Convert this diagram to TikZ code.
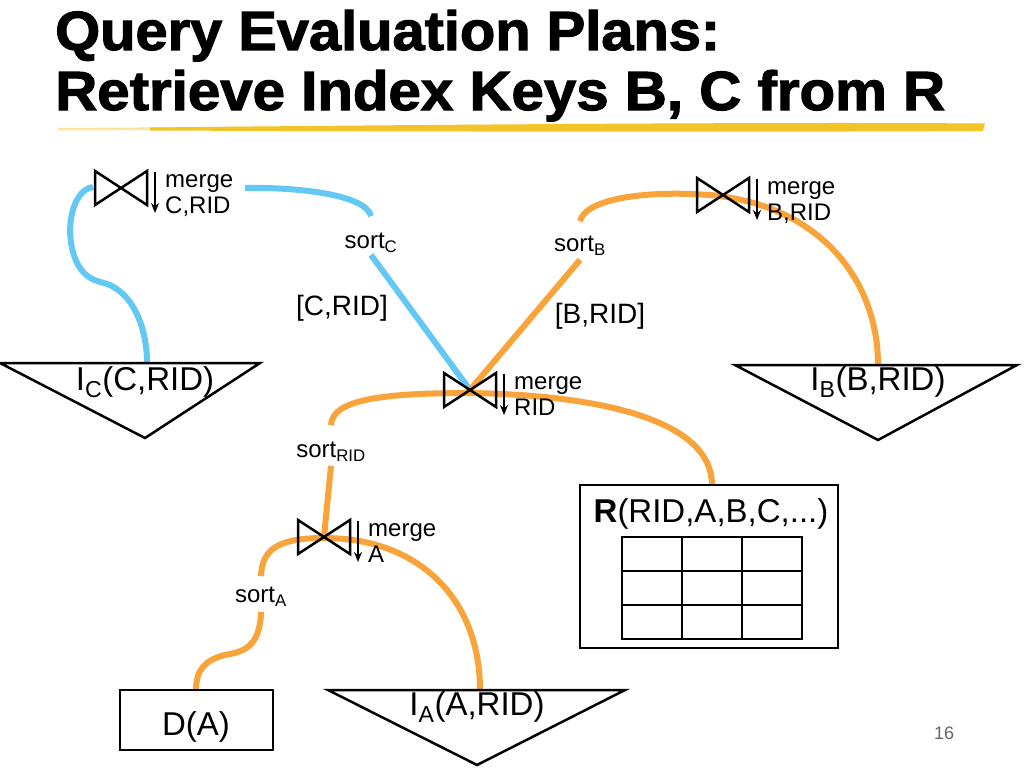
\documentclass[tikz,border=0pt]{standalone}
\usepackage{fontspec}
\setmainfont{Liberation Sans}
\newfontfamily\titlefont[FakeBold=2,FakeStretch=1.0]{Liberation Sans Bold}
\usetikzlibrary{arrows.meta}
\definecolor{cblue}{RGB}{100,200,245}
\definecolor{corange}{RGB}{248,164,58}
\definecolor{cyellow}{RGB}{242,196,38}
\begin{document}
\begin{tikzpicture}[x=1pt,y=-1pt,
  blueline/.style={line width=6pt, draw=cblue, line cap=butt},
  orangeline/.style={line width=6pt, draw=corange, line cap=butt},
  blk/.style={line width=2.5pt, line join=miter},
  small/.style={font=\fontsize{24}{26}\selectfont, inner sep=0pt},
  mid/.style={font=\fontsize{28}{32}\selectfont, inner sep=0pt},
  big/.style={font=\fontsize{33}{38}\selectfont, inner sep=0pt},
  title/.style={font=\titlefont\fontsize{57}{60}\selectfont, inner sep=0pt, anchor=base west},
  bowtie/.pic={
    \coordinate (-c) at (0,0);
    \draw[blk] (-26,-17) -- (26,17) -- (26,-17) -- (-26,17) -- cycle;
    \draw[line width=2pt, -{Stealth[length=10pt,width=8pt]}] (34,-16) -- (34,25);
    \node[small, anchor=base west] (-m) at (44,-1) {merge};
    \node[small, anchor=base west] (-k) at (44,25) {#1};
  }]
\useasboundingbox (0,0) rectangle (1024,768);
\fill[white] (0,0) rectangle (1024,768);

% title
\node[title] (t1) at (55,50) {\resizebox{665pt}{40pt}{Query Evaluation Plans:}};
\node[title] (t2) at (55,110) {\resizebox{890pt}{40pt}{Retrieve Index Keys B, C from R}};
\fill[cyellow!45] (58,128) -- (300,126.5) -- (300,129.5) -- (58,130.5) -- cycle;
\fill[cyellow] (150,127.5) .. controls (500,124) and (800,122) .. (985,123.5)
  -- (983,131) .. controls (800,132) and (500,132) .. (150,130.5) -- cycle;

% fixed points
\coordinate (ictop) at (147,363);
\coordinate (ibtop) at (878,365);
\coordinate (iatop) at (480,690);
\coordinate (datop) at (196,690);
\coordinate (rtop) at (712,485);

% labels
\node[small] (sc) at (371,243) {sort\textsubscript{C}};
\node[small] (sb) at (580,246) {sort\textsubscript{B}};
\node[small] (srid) at (331,452) {sort\textsubscript{RID}};
\node[small] (sa) at (261,597) {sort\textsubscript{A}};
\node[mid] (lc) at (342,308) {[C,RID]};
\node[mid] (lb) at (600,316) {[B,RID]};

% connectors (behind the join symbols)
\coordinate (jcl) at (93,187);
\coordinate (jcr) at (245,188);
\draw[blueline] (jcl) .. controls (70,190) and (62,240) .. (80,268)
  .. controls (92,285) and (105,280) .. (115,288)
  .. controls (135,300) and (147,330) .. (ictop);
\draw[blueline] (jcr) .. controls (300,187) and (366,195) .. ([yshift=17pt]sc.north);
\draw[blueline] ([yshift=-2pt]sc.south) -- (470,390);
\draw[orangeline] (470,390) -- ([yshift=-4pt]sb.south);
\draw[orangeline] ([yshift=15pt]sb.north) .. controls (585,200) and (640,190) .. (710,195)
  .. controls (820,205) and (878,280) .. (ibtop);
\draw[orangeline] ([yshift=17pt]srid.north) .. controls (332,400) and (380,393) .. (470,393)
  .. controls (600,395) and (712,420) .. (rtop);
\draw[orangeline] ([yshift=-4pt]srid.south) -- (324,537);
\draw[orangeline] ([yshift=11pt]sa.north) .. controls (262,548) and (280,538) .. (324,538)
  .. controls (420,538) and (480,600) .. (iatop);
\draw[orangeline] ([yshift=-5pt]sa.south) .. controls (260,650) and (240,652) .. (225,655)
  .. controls (205,660) and (196,670) .. (datop);

% joins
\pic (jc) at (121,188) {bowtie={C,RID}};
\pic (jb) at (723,195) {bowtie={B,RID}};
\pic (jr) at (470,390) {bowtie={RID}};
\pic (ja) at (324,537) {bowtie={A}};

% index triangles
\draw[blk] (0,363) -- (260,363) -- (145,438) -- cycle;
\node[big, anchor=base] (ic) at (145,390) {I\textsubscript{C}(C,RID)};
\draw[blk] (735,365) -- (1017,365) -- (878,440) -- cycle;
\node[big, anchor=base] (ib) at (878,390) {I\textsubscript{B}(B,RID)};
\draw[blk] (328,690) -- (625,690) -- (477,765) -- cycle;
\node[big, anchor=base] (ia) at (477,715) {I\textsubscript{A}(A,RID)};

% D(A)
\draw[line width=2pt] (120,690) rectangle (273,750);
\node[big, anchor=base] (da) at (196,735) {D(A)};

% R box
\draw[line width=2pt] (580,485) rectangle (838,648);
\node[big, anchor=base] (r) at (711,522) {\textbf{R}(RID,A,B,C,...)};
\draw[line width=1.5pt] (622,537) rectangle (802,639);
\foreach \gx in {682,742} \draw[line width=1.5pt] (\gx,537) -- (\gx,639);
\foreach \gy in {571,605} \draw[line width=1.5pt] (622,\gy) -- (802,\gy);

% page number
\node[font=\fontsize{18}{20}\selectfont, text=black!60, inner sep=0pt] (pg) at (944,733) {16};
\end{tikzpicture}
\end{document}
